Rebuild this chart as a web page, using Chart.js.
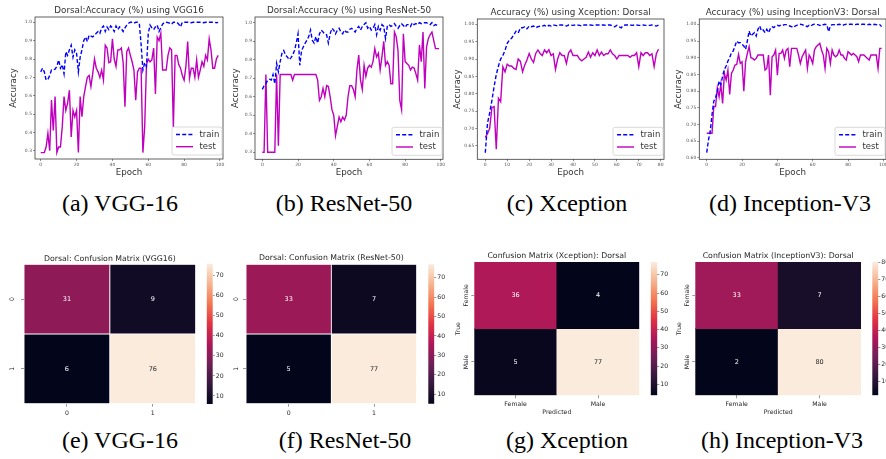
<!DOCTYPE html>
<html><head><meta charset="utf-8">
<script src="https://cdn.jsdelivr.net/npm/chart.js@4.4.1/dist/chart.umd.min.js"></script>
<style>
html,body{margin:0;padding:0;background:#fff;}
#fig{position:relative;width:886px;height:459px;overflow:hidden;background:#fff;}
canvas{position:absolute;}
.cap{position:absolute;font-family:"Liberation Serif","Times New Roman",serif;font-size:24px;line-height:24px;color:#000;white-space:nowrap;transform:translate(-50%,-50%);}
</style></head><body>
<div id="fig">
<canvas id="ca" width="226" height="182" style="left:0px;top:0px;width:226px;height:182px"></canvas>
<canvas id="cb" width="220" height="182" style="left:226px;top:0px;width:220px;height:182px"></canvas>
<canvas id="cc" width="220" height="182" style="left:446px;top:0px;width:220px;height:182px"></canvas>
<canvas id="cd" width="220" height="182" style="left:666px;top:0px;width:220px;height:182px"></canvas>
<canvas id="he" width="200" height="180" style="left:0px;top:240px;width:200px;height:180px"></canvas>
<canvas id="hf" width="200" height="180" style="left:222px;top:240px;width:200px;height:180px"></canvas>
<canvas id="hg" width="206" height="180" style="left:440px;top:240px;width:206px;height:180px"></canvas>
<canvas id="hh" width="206" height="180" style="left:660px;top:240px;width:206px;height:180px"></canvas>
<canvas id="be" width="26" height="180" style="left:200px;top:240px;width:26px;height:180px"></canvas>
<canvas id="bf" width="26" height="180" style="left:422px;top:240px;width:26px;height:180px"></canvas>
<canvas id="bg" width="24" height="180" style="left:645px;top:240px;width:24px;height:180px"></canvas>
<canvas id="bh" width="20" height="180" style="left:866px;top:240px;width:20px;height:180px"></canvas>
<div class="cap" style="left:120px;top:203px">(a) VGG-16</div>
<div class="cap" style="left:344px;top:203px">(b) ResNet-50</div>
<div class="cap" style="left:567px;top:203px">(c) Xception</div>
<div class="cap" style="left:790px;top:203px">(d) Inception-V3</div>
<div class="cap" style="left:120px;top:440px">(e) VGG-16</div>
<div class="cap" style="left:345px;top:440px">(f) ResNet-50</div>
<div class="cap" style="left:567px;top:440px">(g) Xception</div>
<div class="cap" style="left:782px;top:440px">(h) Inception-V3</div>
</div>
<script>
// ---------------- DATA ----------------
const vggTrain = [0.73,0.75,0.73,0.685,0.69,0.71,0.74,0.74,0.745,0.76,
0.795,0.75,0.77,0.72,0.84,0.82,0.85,0.875,0.81,0.85,
0.83,0.73,0.81,0.85,0.90,0.92,0.895,0.93,0.925,0.92,
0.93,0.94,0.95,0.94,0.97,0.98,0.95,0.975,0.96,0.98,
0.97,0.95,0.98,0.96,0.975,0.965,0.95,0.97,0.985,0.995,
1.0,1.0,0.995,1.0,1.0,0.995,0.88,0.74,0.78,0.76,
0.94,0.985,0.97,0.96,0.975,0.985,0.95,0.97,0.99,1.0,
1.0,0.998,0.995,0.99,1.0,1.0,1.0,0.99,0.975,1.0,
1.0,1.0,1.0,1.0,0.998,1.0,1.0,1.0,1.0,1.0,
1.0,0.998,1.0,1.0,1.0,1.0,1.0,1.0,0.998,1.0];
const vggTest = [0.29,0.29,0.29,0.32,0.395,0.30,0.576,0.41,0.595,0.29,
0.32,0.32,0.43,0.595,0.52,0.56,0.63,0.375,0.52,0.485,
0.52,0.29,0.595,0.485,0.595,0.65,0.70,0.71,0.65,0.72,
0.80,0.75,0.73,0.70,0.74,0.685,0.875,0.86,0.78,0.785,
0.91,0.80,0.76,0.85,0.85,0.86,0.78,0.54,0.84,0.86,
0.82,0.785,0.74,0.576,0.73,0.75,0.75,0.29,0.43,0.77,
0.80,0.785,0.795,0.86,0.61,0.92,0.90,0.94,0.74,0.74,
0.74,0.82,0.86,0.85,0.43,0.82,0.82,0.77,0.75,0.71,
0.685,0.76,0.895,0.695,0.75,0.75,0.70,0.795,0.70,0.74,
0.785,0.76,0.82,0.795,0.91,0.85,0.75,0.75,0.80,0.82];
const resTrain = [0.64,0.66,0.67,0.69,0.695,0.69,0.72,0.67,0.78,0.735,
0.79,0.835,0.85,0.825,0.815,0.80,0.81,0.825,0.85,0.89,
0.94,0.77,0.85,0.87,0.89,0.905,0.925,0.96,0.905,0.89,
0.925,0.89,0.94,0.96,0.95,0.94,0.935,0.89,0.94,0.97,
0.96,0.94,0.96,0.97,0.95,0.94,0.96,0.95,0.95,0.965,
0.97,0.96,0.95,0.97,0.98,0.96,0.98,0.99,1.0,0.97,
0.98,0.96,0.97,0.99,0.935,0.98,0.96,0.99,0.98,0.915,
0.98,0.99,0.98,0.985,0.995,0.98,0.97,0.985,0.995,0.985,
0.975,0.99,0.99,0.98,1.0,0.99,0.995,0.99,1.0,0.995,
1.0,1.0,1.0,0.995,0.99,1.0,0.985,0.99,0.985,0.99];
const resTest = [0.30,0.30,0.72,0.30,0.30,0.30,0.30,0.30,0.72,0.335,
0.72,0.72,0.72,0.72,0.72,0.72,0.72,0.69,0.72,0.72,
0.72,0.72,0.72,0.72,0.72,0.72,0.72,0.72,0.72,0.72,
0.72,0.69,0.58,0.60,0.645,0.60,0.66,0.655,0.60,0.53,
0.50,0.39,0.44,0.49,0.465,0.49,0.475,0.50,0.60,0.66,
0.66,0.64,0.60,0.745,0.825,0.69,0.64,0.77,0.71,0.755,
0.77,0.76,0.79,0.86,0.815,0.835,0.745,0.815,0.90,0.77,
0.79,0.77,0.67,0.67,0.95,0.925,0.85,0.58,0.53,0.94,
0.79,0.78,0.77,0.745,0.76,0.755,0.725,0.69,0.88,0.79,
0.95,0.645,0.87,0.915,0.935,0.95,0.905,0.86,0.86,0.86];
const xcTrain = [0.63,0.715,0.745,0.78,0.82,0.855,0.88,0.90,0.91,0.925,
0.945,0.955,0.96,0.97,0.98,0.975,0.99,0.99,0.993,0.987,
0.995,0.993,0.995,0.99,0.993,0.995,0.995,0.997,0.993,0.997,
0.995,0.998,0.997,0.995,0.998,0.998,0.997,0.995,0.998,0.998,
0.997,0.998,0.998,0.997,0.995,0.998,0.998,0.998,0.998,0.997,
0.998,0.998,0.998,0.998,0.998,0.997,0.998,0.998,0.995,0.993,
0.997,0.993,0.99,0.997,0.998,0.998,0.998,0.997,0.998,0.998,
0.997,0.997,0.998,0.997,0.997,0.997,0.998,0.997,0.995,0.998];
const xcTest = [0.674,0.685,0.70,0.76,0.763,0.64,0.787,0.777,0.878,0.863,
0.885,0.88,0.88,0.873,0.87,0.90,0.893,0.863,0.883,0.897,
0.916,0.90,0.89,0.916,0.926,0.916,0.91,0.926,0.918,0.927,
0.91,0.915,0.87,0.90,0.918,0.91,0.91,0.887,0.918,0.926,
0.91,0.91,0.91,0.90,0.895,0.90,0.905,0.92,0.905,0.918,
0.91,0.926,0.91,0.92,0.91,0.915,0.915,0.926,0.915,0.91,
0.90,0.91,0.91,0.91,0.91,0.91,0.905,0.91,0.91,0.918,
0.878,0.918,0.91,0.918,0.918,0.91,0.915,0.878,0.915,0.928];
const incTrain = [0.616,0.654,0.68,0.73,0.77,0.78,0.80,0.83,0.82,0.845,
0.865,0.875,0.89,0.90,0.915,0.92,0.935,0.95,0.945,0.945,
0.94,0.935,0.925,0.95,0.98,0.965,0.97,0.975,0.965,0.985,
0.995,0.98,0.983,0.975,0.985,0.975,0.987,0.993,0.99,0.995,
0.997,0.995,0.998,0.997,0.999,0.999,0.997,0.995,0.993,0.99,
0.995,0.997,0.999,1.0,0.999,0.997,0.995,0.993,0.997,0.995,
0.999,1.0,0.999,0.999,0.997,0.995,0.999,1.0,0.999,0.978,
0.995,0.999,0.999,0.997,0.999,1.0,0.999,0.997,0.999,1.0,
0.999,1.0,1.0,0.999,0.999,1.0,1.0,0.999,1.0,1.0,
0.999,0.999,1.0,0.999,0.998,1.0,0.999,0.998,0.999,0.993];
const incTest = [0.674,0.674,0.674,0.674,0.754,0.754,0.81,0.783,0.82,0.763,
0.853,0.833,0.863,0.79,0.853,0.863,0.878,0.88,0.91,0.883,
0.888,0.80,0.888,0.913,0.933,0.90,0.898,0.893,0.898,0.908,
0.908,0.908,0.908,0.863,0.868,0.908,0.788,0.903,0.908,0.923,
0.848,0.913,0.913,0.923,0.898,0.923,0.928,0.873,0.928,0.928,
0.928,0.928,0.908,0.883,0.903,0.913,0.923,0.868,0.908,0.898,
0.883,0.923,0.933,0.938,0.943,0.923,0.908,0.868,0.928,0.918,
0.883,0.923,0.908,0.903,0.908,0.923,0.908,0.908,0.898,0.893,
0.918,0.913,0.908,0.913,0.908,0.903,0.888,0.908,0.908,0.908,
0.903,0.898,0.893,0.908,0.908,0.908,0.908,0.868,0.928,0.928];

const epochTicks100 = [0,20,40,60,80,100];
const epochTicks80 = [0,10,20,30,40,50,60,70,80];
const accTicksWide = [0.3,0.4,0.5,0.6,0.7,0.8,0.9,1.0];
const accTicksXc = [0.65,0.70,0.75,0.80,0.85,0.90,0.95,1.00];
const accTicksInc = [0.60,0.65,0.70,0.75,0.80,0.85,0.90,0.95,1.00];

const cmVgg = [[31,9],[6,76]];
const cmRes = [[33,7],[5,77]];
const cmXc = [[36,4],[5,77]];
const cmInc = [[33,7],[2,80]];
const numLabels = ['0','1'];
const sexLabels = ['Female','Male'];
const cbTicks = [10,20,30,40,50,60,70];
const cbTicksInc = [10,20,30,40,50,60,70,80];

// ---------------- STYLE ----------------
const FAM = "'DejaVu Sans', sans-serif";
Chart.defaults.font.family = FAM;
Chart.defaults.animation = false;
const ROCKET = [[0,[3,5,26]],[0.143,[53,25,62]],[0.286,[112,31,87]],[0.429,[173,23,89]],
  [0.571,[225,51,66]],[0.714,[243,118,81]],[0.857,[246,180,143]],[1,[250,235,221]]];
function rocket(t){
  t = Math.max(0, Math.min(1, t));
  for (let i=1;i<ROCKET.length;i++){
    if (t <= ROCKET[i][0]){
      const [p0,c0]=ROCKET[i-1], [p1,c1]=ROCKET[i];
      const f=(t-p0)/(p1-p0);
      const c=c0.map((v,k)=>Math.round(v+(c1[k]-v)*f));
      return `rgb(${c[0]},${c[1]},${c[2]})`;
    }
  }
  return 'rgb(250,235,221)';
}
const mctx = document.createElement('canvas').getContext('2d');
function textW(t,size){ mctx.font = `${size}px ${FAM}`; return mctx.measureText(t).width; }

const framePlugin = {id:'frame', afterDatasetsDraw(chart){
  const {ctx, chartArea:a} = chart; ctx.save(); ctx.strokeStyle='#3a3a3a'; ctx.lineWidth=0.8;
  ctx.strokeRect(a.left, a.top, a.right-a.left, a.bottom-a.top); ctx.restore(); }};
const legendPlugin = {id:'boxLegend', afterDraw(chart){
  const {ctx, chartArea:a} = chart; const w=50, h=28; const x=a.right-1-w, y=a.bottom-4-h;
  ctx.save();
  ctx.beginPath(); if (ctx.roundRect) ctx.roundRect(x,y,w,h,2); else ctx.rect(x,y,w,h);
  ctx.fillStyle='rgba(255,255,255,0.85)'; ctx.fill(); ctx.strokeStyle='#d0d0d0'; ctx.lineWidth=0.8; ctx.stroke();
  chart.data.datasets.forEach((ds,i)=>{
    const yy = y + 7.5 + i*12.2;
    ctx.strokeStyle = ds.borderColor; ctx.lineWidth = ds.borderWidth; ctx.setLineDash(ds.borderDash||[]);
    ctx.beginPath(); ctx.moveTo(x+4,yy); ctx.lineTo(x+21,yy); ctx.stroke(); ctx.setLineDash([]);
    ctx.fillStyle='#333'; ctx.font=`8.5px ${FAM}`; ctx.textBaseline='middle'; ctx.textAlign='left';
    ctx.fillText(ds.label, x+27.5, yy);
  });
  ctx.restore(); }};

function makeLine(id, title, train, test, xr, yr, xTicks, yTicks, dec, area, titleY, ylabX, xlabY){
  const cv = document.getElementById(id); const W=cv.width, H=cv.height;
  const tlh = 8.8*1.2, alh = 8.7*1.2;
  new Chart(cv, {
    type:'line',
    data:{datasets:[
      {label:'train', data:train.map((v,i)=>({x:i,y:v})), borderColor:'#0000ff', borderWidth:1.4, borderDash:[4,2.2], pointRadius:0, tension:0, fill:false},
      {label:'test', data:test.map((v,i)=>({x:i,y:v})), borderColor:'#bf00bf', borderWidth:1.4, pointRadius:0, tension:0, fill:false}
    ]},
    options:{
      responsive:false, animation:false, devicePixelRatio:1,
      layout:{autoPadding:false, padding:{left:0, top:0, right:W-area.r, bottom:0}},
      plugins:{legend:{display:false}, tooltip:{enabled:false},
        title:{display:true, text:title, fullSize:false, color:'#333', font:{size:8.8, weight:'normal'},
          padding:{top:titleY-tlh/2, bottom:area.t-titleY-tlh/2}}},
      scales:{
        x:{type:'linear', bounds:'data', min:xr[0], max:xr[1],
          afterBuildTicks:s=>{s.ticks = xTicks.map(v=>({value:v}));},
          afterFit:s=>{s.height = H-area.b; s.paddingLeft=0; s.paddingRight=0;},
          ticks:{font:{size:4.5}, color:'#555', padding:1, maxRotation:0, autoSkip:false},
          grid:{display:true, drawOnChartArea:false, tickLength:2, color:'#444', lineWidth:0.6},
          border:{display:false},
          title:{display:true, text:'Epoch', color:'#333', font:{size:8.7}, padding:{top:0, bottom:H-xlabY-alh/2}}},
        y:{type:'linear', bounds:'data', min:yr[0], max:yr[1],
          afterBuildTicks:s=>{s.ticks = yTicks.map(v=>({value:v}));},
          afterFit:s=>{s.width = area.l; s.paddingTop=0; s.paddingBottom=0;},
          ticks:{font:{size:4.5}, color:'#555', padding:1, autoSkip:false, callback:v=>Number(v).toFixed(dec)},
          grid:{display:true, drawOnChartArea:false, tickLength:2, color:'#444', lineWidth:0.6},
          border:{display:false},
          title:{display:true, text:'Accuracy', color:'#333', font:{size:8.7}, padding:{top:ylabX-alh/2, bottom:0}}}
      }
    },
    plugins:[framePlugin, legendPlugin]
  });
}

const cellText = {id:'cellText', afterDatasetsDraw(chart, args, o){
  const ctx = chart.ctx; ctx.save();
  ctx.font = `6.5px ${FAM}`; ctx.textAlign='center'; ctx.textBaseline='middle';
  chart.data.datasets.forEach((ds,r)=>{
    chart.getDatasetMeta(r).data.forEach((bar,c)=>{
      const v = o.matrix[r][c]; const t=(v-o.vmin)/(o.vmax-o.vmin);
      ctx.fillStyle = t>0.6 ? '#262626' : '#ffffff';
      ctx.fillText(String(v), bar.x, (bar.y+bar.base)/2);
    });
  });
  ctx.restore(); }};

function makeHeat(id, title, matrix, xLabels, yLabels, vmin, vmax, area, titleY, o){
  const cv = document.getElementById(id); const W=cv.width, H=cv.height;
  const tlh = 7.8*1.2, fs = 6.2, flh = fs*1.2, tl = 3;
  const widest = Math.max(...yLabels.map(l=>textW(l,fs)));
  const yPad = area.l - o.ylabCX - tl - widest/2;
  const xPad = o.xlabCY - area.b - tl - flh/2;
  new Chart(cv, {
    type:'bar',
    data:{labels:xLabels, datasets:matrix.map((row,r)=>({
      label:yLabels[r], data:row.map(()=>1),
      backgroundColor:row.map(v=>rocket((v-vmin)/(vmax-vmin))),
      borderColor:'#ffffff', borderWidth:o.border?0.8:0, borderSkipped:false,
      barPercentage:1, categoryPercentage:1, stack:'m'}))},
    options:{
      responsive:false, animation:false, devicePixelRatio:1,
      layout:{autoPadding:false, padding:{left:0, top:0, right:W-area.r, bottom:0}},
      plugins:{legend:{display:false}, tooltip:{enabled:false},
        title:{display:true, text:title, fullSize:false, color:'#262626', font:{size:7.8, weight:'normal'},
          padding:{top:titleY-tlh/2, bottom:area.t-titleY-tlh/2}},
        cellText:{matrix, vmin, vmax}},
      scales:{
        x:{type:'category', stacked:true, offset:true,
          afterFit:s=>{s.height = H-area.b; s.paddingLeft=0; s.paddingRight=0;},
          ticks:{font:{size:fs}, color:'#262626', padding:xPad, maxRotation:0, autoSkip:false},
          grid:{display:true, drawOnChartArea:false, offset:false, tickLength:tl, color:'#555', lineWidth:0.6},
          border:{display:false},
          title:{display:!!o.xTitle, text:o.xTitle||'', color:'#262626', font:{size:fs}, padding:{top:0, bottom:H-(o.xTitleY||0)-flh/2}}},
        y:{type:'linear', stacked:true, min:0, max:2, reverse:true,
          afterBuildTicks:s=>{s.ticks = yLabels.map((l,i)=>({value:i+0.5}));},
          afterFit:s=>{s.width = area.l; s.paddingTop=0; s.paddingBottom=0;},
          ticks:{font:{size:fs}, color:'#262626', padding:yPad, minRotation:90, maxRotation:90, crossAlign:'center', autoSkip:false,
            callback:(v,i)=>yLabels[i]},
          grid:{display:true, drawOnChartArea:false, tickLength:tl, color:'#555', lineWidth:0.6},
          border:{display:false},
          title:{display:!!o.yTitle, text:o.yTitle||'', color:'#262626', font:{size:fs}, padding:{top:(o.yTitleX||0)-flh/2, bottom:0}}}
      }
    },
    plugins:[cellText]
  });
}

function makeCbar(id, vmin, vmax, ticks, area){
  const cv = document.getElementById(id); const W=cv.width, H=cv.height;
  new Chart(cv, {
    type:'bar',
    data:{labels:[''], datasets:[{data:[[vmin,vmax]], borderWidth:0, barPercentage:1, categoryPercentage:1,
      backgroundColor:(c)=>{ const ch=c.chart, a=ch.chartArea; if(!a) return '#000';
        const g=ch.ctx.createLinearGradient(0,a.bottom,0,a.top);
        ROCKET.forEach(([p,col])=>g.addColorStop(p,`rgb(${col[0]},${col[1]},${col[2]})`)); return g; }}]},
    options:{
      responsive:false, animation:false, devicePixelRatio:1,
      layout:{autoPadding:false, padding:{left:area.l, top:area.t, right:0, bottom:H-area.b}},
      plugins:{legend:{display:false}, tooltip:{enabled:false}},
      scales:{
        x:{display:false, offset:true},
        y:{position:'right', min:vmin, max:vmax, bounds:'data',
          afterBuildTicks:s=>{s.ticks = ticks.map(v=>({value:v}));},
          afterFit:s=>{s.width = W-area.r; s.paddingTop=0; s.paddingBottom=0;},
          ticks:{font:{size:6.2}, color:'#262626', padding:1, autoSkip:false},
          grid:{display:true, drawOnChartArea:false, tickLength:2, color:'#555', lineWidth:0.6},
          border:{display:false}}
      }
    }
  });
}

makeLine('ca','Dorsal:Accuracy (%) using VGG16', vggTrain, vggTest, [-3.2,101.7], [0.255,1.029], epochTicks100, accTicksWide, 1, {l:35,t:17,r:223,b:159}, 10.5, 14, 172.3);
makeLine('cb','Dorsal:Accuracy (%) using ResNet-50', resTrain, resTest, [-4.1,101.2], [0.262,1.031], epochTicks100, accTicksWide, 1, {l:29,t:17,r:217,b:159.3}, 10.7, 9.5, 172.3);
makeLine('cc','Accuracy (%) using Xception: Dorsal', xcTrain, xcTest, [-3.65,81.5], [0.611,1.0153], epochTicks80, accTicksXc, 2, {l:31.3,t:19,r:218,b:159.3}, 12.5, 11.3, 172.3);
makeLine('cd','Accuracy (%) using InceptionV3: Dorsal', incTrain, incTest, [-4.2,101.5], [0.596,1.0159], epochTicks100, accTicksInc, 2, {l:33.3,t:19,r:220,b:159.3}, 12.7, 13, 172.3);

makeHeat('he','Dorsal: Confusion Matrix (VGG16)', cmVgg, numLabels, numLabels, 6, 76, {l:24,t:24.3,r:195.7,b:163.7}, 19, {border:true, ylabCX:12.7, xlabCY:173.3});
makeHeat('hf','Dorsal: Confusion Matrix (ResNet-50)', cmRes, numLabels, numLabels, 5, 77, {l:24,t:24.3,r:194.7,b:163.7}, 18.3, {border:true, ylabCX:14, xlabCY:173.3});
makeHeat('hg','Confusion Matrix (Xception): Dorsal', cmXc, sexLabels, sexLabels, 4, 77, {l:34.3,t:22,r:199.3,b:155.3}, 15.7, {border:false, ylabCX:26.7, xlabCY:164, xTitle:'Predicted', xTitleY:172.7, yTitle:'True', yTitleX:18.3});
makeHeat('hh','Confusion Matrix (InceptionV3): Dorsal', cmInc, sexLabels, sexLabels, 2, 80, {l:35.3,t:22,r:201,b:155.3}, 15.7, {border:false, ylabCX:27.7, xlabCY:164, xTitle:'Predicted', xTitleY:172.7, yTitle:'True', yTitleX:19.3});

makeCbar('be', 6, 76, cbTicks, {l:6.7,r:12.7,t:23.7,b:164});
makeCbar('bf', 5, 77, cbTicks, {l:6.3,r:12.3,t:24.3,b:163.7});
makeCbar('bg', 4, 77, cbTicks, {l:5.7,r:12.3,t:22,b:155.3});
makeCbar('bh', 2, 80, cbTicksInc, {l:6.3,r:12.3,t:22,b:155.3});
</script>
</body></html>
